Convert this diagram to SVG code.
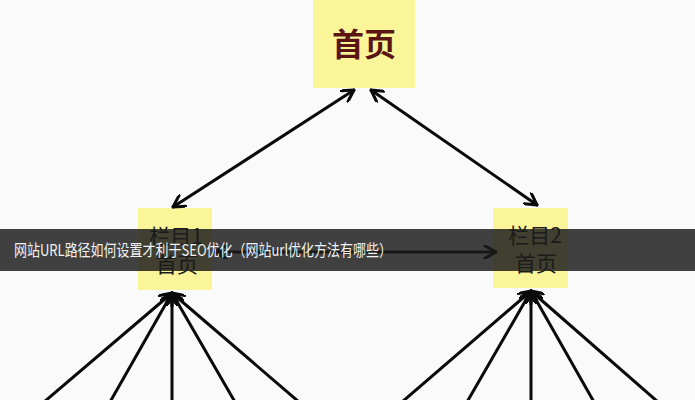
<svg xmlns="http://www.w3.org/2000/svg" width="695" height="400" viewBox="0 0 695 400">
<style>
.box{fill:#fbf59a;}
.lbl{font-family:"Noto Sans CJK SC","Liberation Sans",sans-serif;text-anchor:middle;}
.edge{stroke:#0a0a0a;stroke-width:3;fill:none;stroke-linecap:round;}
</style>
<defs>
<marker id="ah" viewBox="0 0 10 10" refX="9" refY="5" markerWidth="14" markerHeight="14" markerUnits="userSpaceOnUse" orient="auto-start-reverse">
<path d="M1,0.5 L9,5 L1,9.5" fill="none" stroke="#0a0a0a" stroke-width="2.2" stroke-linecap="round" stroke-linejoin="round"/>
</marker>
</defs>
<rect width="695" height="400" fill="#fafafa"/>
<g id="home">
<rect class="box" x="313" y="0" width="102" height="88"/>
<text class="lbl" x="364" y="56" font-size="32" font-weight="bold" fill="#5a1512">首页</text>
</g>
<g id="col1">
<rect class="box" x="138" y="208" width="74" height="82"/>
<text class="lbl" x="176" y="244" font-size="21" fill="#1a1a1a">栏目1</text>
<text class="lbl" x="177" y="272" font-size="21" fill="#1a1a1a">首页</text>
</g>
<g id="col2">
<rect class="box" x="493" y="208" width="75" height="80"/>
<text class="lbl" x="535" y="243" font-size="21" fill="#1a1a1a">栏目2</text>
<text class="lbl" x="536" y="271" font-size="21" fill="#1a1a1a">首页</text>
</g>
<g id="connectors">
<line class="edge" x1="354" y1="90" x2="173" y2="207" marker-start="url(#ah)" marker-end="url(#ah)"/>
<line class="edge" x1="371" y1="90" x2="537" y2="205" marker-start="url(#ah)" marker-end="url(#ah)"/>
<line class="edge" x1="215" y1="252" x2="496" y2="252" marker-start="url(#ah)" marker-end="url(#ah)"/>
<line class="edge" x1="172" y1="293" x2="44" y2="402" marker-start="url(#ah)"/>
<line class="edge" x1="172" y1="293" x2="110" y2="402" marker-start="url(#ah)"/>
<line class="edge" x1="172" y1="293" x2="172" y2="402" marker-start="url(#ah)"/>
<line class="edge" x1="172" y1="293" x2="235" y2="402" marker-start="url(#ah)"/>
<line class="edge" x1="172" y1="293" x2="299" y2="402" marker-start="url(#ah)"/>
<line class="edge" x1="531" y1="291" x2="402" y2="402" marker-start="url(#ah)"/>
<line class="edge" x1="531" y1="291" x2="467" y2="402" marker-start="url(#ah)"/>
<line class="edge" x1="531" y1="291" x2="531" y2="402" marker-start="url(#ah)"/>
<line class="edge" x1="531" y1="291" x2="594" y2="402" marker-start="url(#ah)"/>
<line class="edge" x1="531" y1="291" x2="658" y2="402" marker-start="url(#ah)"/>
</g>
<g id="banner">
<rect x="0" y="229" width="695" height="42" fill="#1c1c1c" fill-opacity="0.84"/>
<text x="14" y="256" font-size="16" fill="#f2f2f2" font-family="Noto Sans CJK SC,Liberation Sans,sans-serif" textLength="378" lengthAdjust="spacingAndGlyphs">网站URL路径如何设置才利于SEO优化（网站url优化方法有哪些）</text>
</g>
</svg>
